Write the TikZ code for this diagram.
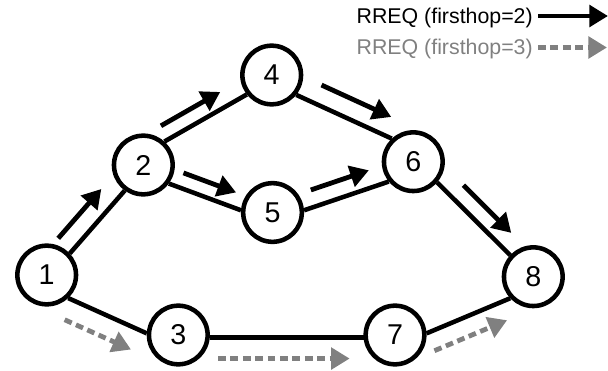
\documentclass[tikz,border=0pt]{standalone}
\usepackage{fontspec}
\setmainfont{Liberation Sans}
\usetikzlibrary{arrows.meta,calc}
\definecolor{hopgray}{rgb}{0.5,0.5,0.5}
\tikzset{
  station/.style={circle,draw,line width=3.4pt,minimum size=44pt,inner sep=0pt,
    font=\fontsize{21.5}{21.5}\selectfont},
  link/.style={line width=3.4pt},
  hoptwo/.style={line width=3.6pt,-{Triangle[length=14pt,width=16pt]}},
  hopthree/.style={hopgray,line width=3.6pt,dash pattern=on 5.8pt off 3.5pt,
    -{Triangle[length=14pt,width=16pt]}},
  legend/.style={inner sep=0pt,anchor=base east,font=\fontsize{16}{16}\selectfont}
}
\begin{document}
\begin{tikzpicture}[x=0.75pt,y=-0.75pt]
\useasboundingbox (0,0) rectangle (608,371);
%% the stations
\node[station] (n1) at (46.7,275) {1};
\node[station] (n2) at (143.3,165) {2};
\node[station] (n3) at (178.3,335) {3};
\node[station] (n4) at (271.7,75) {4};
\node[station] (n5) at (272.5,212.5) {5};
\node[station] (n6) at (413.3,161.7) {6};
\node[station] (n7) at (395,335) {7};
\node[station] (n8) at (533.3,276.7) {8};
% the links
\draw[link] (n1.43) -- (n2.234);
\draw[link] (n1.-47) -- (n3.177);
\draw[link] (n2.48) -- (n4.218);
\draw[link] (n2.-36) -- (n5.176);
\draw[link] (n4.-39) -- (n6.133);
\draw[link] (n5.4) -- (n6.219);
\draw[link] (n6.-41) -- (n8.137);
\draw[link] (n3.-5) -- (n7.185);
\draw[link] (n7.3) -- (n8.223);
%% firsthop=2
\draw[hoptwo] ($(n1.43)!0.045!(n2.234)!14pt!90:(n2.234)$) -- ($(n1.43)!0.83!(n2.234)!14pt!90:(n2.234)$);
\draw[hoptwo] ($(n2.48)!0.05!(n4.218)!11.5pt!90:(n4.218)$) -- ($(n2.48)!0.77!(n4.218)!11.5pt!90:(n4.218)$);
\draw[hoptwo] ($(n4.-39)!0.18!(n6.133)!14.6pt!90:(n6.133)$) -- ($(n4.-39)!0.91!(n6.133)!14.6pt!90:(n6.133)$);
\draw[hoptwo] ($(n2.-36)!0.13!(n5.176)!11.3pt!90:(n5.176)$) -- ($(n2.-36)!0.86!(n5.176)!11.3pt!90:(n5.176)$);
\draw[hoptwo] ($(n5.4)!0.145!(n6.219)!12.8pt!90:(n6.219)$) -- ($(n5.4)!0.83!(n6.219)!12.8pt!90:(n6.219)$);
\draw[hoptwo] ($(n6.-41)!0.2!(n8.137)!12.4pt!90:(n8.137)$) -- ($(n6.-41)!0.855!(n8.137)!12.4pt!90:(n8.137)$);
%% firsthop=3
\draw[hopthree] ($(n1.-47)!0.065!(n3.177)!15.9pt!-90:(n3.177)$) -- ($(n1.-47)!0.91!(n3.177)!15.9pt!-90:(n3.177)$);
\draw[hopthree] ($(n3.-5)!0.054!(n7.185)!15.6pt!-90:(n7.185)$) -- ($(n3.-5)!0.91!(n7.185)!15.6pt!-90:(n7.185)$);
\draw[hopthree] ($(n7.3)!0.006!(n8.223)!14.3pt!-90:(n8.223)$) -- ($(n7.3)!0.875!(n8.223)!14.3pt!-90:(n8.223)$);
%% the legend
\node[legend] (key2) at (533,23.3) {RREQ (firsthop=2)};
\node[legend,text=hopgray] (key3) at (533,55) {RREQ (firsthop=3)};
\coordinate (key2end) at (608,16);
\coordinate (key3end) at (607,47.5);
\draw[hoptwo] (538,16) -- (key2end);
\draw[hopthree] (538,47.5) -- (key3end);
\end{tikzpicture}
\end{document}
